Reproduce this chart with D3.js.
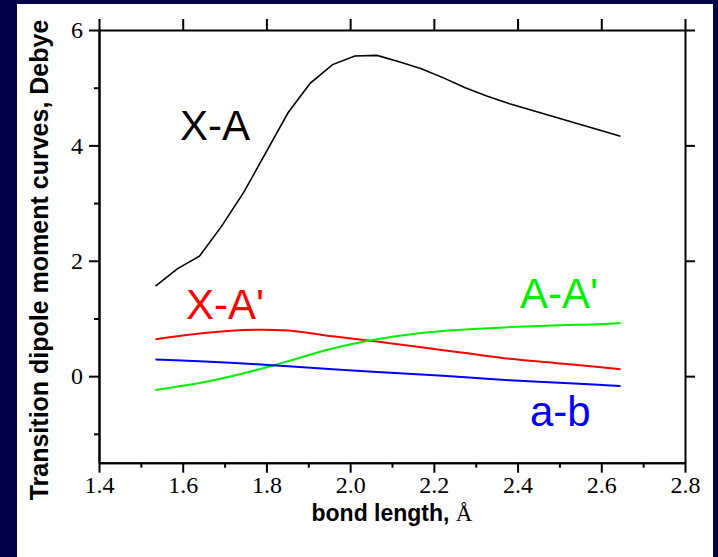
<!DOCTYPE html>
<html>
<head>
<meta charset="utf-8">
<script src="https://cdn.jsdelivr.net/npm/d3@7"></script>
<style>
  html, body { margin: 0; padding: 0; background: #03004c; }
  svg { display: block; }
</style>
</head>
<body>
<svg id="chart" width="718" height="557"></svg>
<script>
// ---------- data ----------
// bond lengths (Å) for the X-A curve (straight segments between points)
const xaBond = [1.535, 1.587, 1.640, 1.693, 1.746, 1.799, 1.852, 1.905, 1.958, 2.011, 2.064, 2.117, 2.170, 2.223, 2.275, 2.328, 2.381, 2.646];
const xaValues = [1.56, 1.86, 2.08, 2.60, 3.19, 3.88, 4.57, 5.08, 5.40, 5.55, 5.56, 5.45, 5.33, 5.17, 5.00, 4.85, 4.72, 4.16];

// bond lengths (Å) for the smooth curves
const smoothBond = [1.535, 1.640, 1.746, 1.852, 1.958, 2.064, 2.170, 2.275, 2.381, 2.487, 2.593, 2.646];
const xApValues = [0.64, 0.74, 0.80, 0.79, 0.69, 0.60, 0.50, 0.40, 0.30, 0.23, 0.16, 0.12];
const aApValues = [-0.24, -0.12, 0.05, 0.26, 0.48, 0.64, 0.75, 0.81, 0.85, 0.88, 0.90, 0.92];
const abValues  = [0.29, 0.26, 0.22, 0.17, 0.12, 0.07, 0.03, -0.02, -0.07, -0.11, -0.15, -0.17];

// axis ticks
const xMajorTicks = [1.4, 1.6, 1.8, 2.0, 2.2, 2.4, 2.6, 2.8];
const xMinorTicks = [1.5, 1.7, 1.9, 2.1, 2.3, 2.5, 2.7];
const yMajorTicks = [0, 2, 4, 6];
const yMinorTicks = [-1, 1, 3, 5];

const xTitle = "bond length, ";
const xTitleUnit = "Å";
const yTitle = "Transition dipole moment curves, Debye";

const seriesLabels = ["X-A", "X-A'", "A-A'", "a-b"];
const seriesColors = ["#000000", "#ff0000", "#00f000", "#0000ff"];

// ---------- drawing ----------
const svg = d3.select("#chart");

// white panel on navy background
svg.append("rect").attr("x", 0).attr("y", 0).attr("width", 718).attr("height", 557).attr("fill", "#03004c");
svg.append("rect").attr("x", 17).attr("y", 4).attr("width", 696).attr("height", 553).attr("fill", "#ffffff");

const L = 99, R = 685, T = 30, B = 462.7;
const x = d3.scaleLinear().domain([1.4, 2.8]).range([L, R]);
const y = d3.scaleLinear().domain([-1.5, 6]).range([B, T]);

const serif = "'Liberation Serif', 'Times New Roman', serif";
const sans = "'Liberation Sans', Arial, sans-serif";

function styleAxis(g) {
  g.select(".domain").attr("stroke", "#000").attr("stroke-width", 2);
  g.selectAll(".tick line").attr("stroke", "#000").attr("stroke-width", 2);
  g.selectAll(".tick text").attr("fill", "#000").style("font-family", serif).style("font-size", "24px");
}

// bottom axis
svg.append("g").attr("transform", `translate(0,${B})`)
  .call(d3.axisBottom(x).tickValues(xMinorTicks).tickSize(5).tickFormat("").tickSizeOuter(0))
  .call(styleAxis);
svg.append("g").attr("transform", `translate(0,${B})`)
  .call(d3.axisBottom(x).tickValues(xMajorTicks).tickSize(10).tickPadding(3).tickFormat(d3.format(".1f")).tickSizeOuter(0))
  .call(styleAxis);

// top axis (major ticks, no labels)
svg.append("g").attr("transform", `translate(0,${T})`)
  .call(d3.axisTop(x).tickValues(xMajorTicks).tickSize(11).tickFormat("").tickSizeOuter(0))
  .call(styleAxis);

// left axis
svg.append("g").attr("transform", `translate(${L},0)`)
  .call(d3.axisLeft(y).tickValues(yMinorTicks).tickSize(5).tickFormat("").tickSizeOuter(0))
  .call(styleAxis);
svg.append("g").attr("transform", `translate(${L},0)`)
  .call(d3.axisLeft(y).tickValues(yMajorTicks).tickSize(10).tickPadding(6).tickFormat(d3.format("d")).tickSizeOuter(0))
  .call(styleAxis);

// right axis (major ticks, no labels)
svg.append("g").attr("transform", `translate(${R},0)`)
  .call(d3.axisRight(y).tickValues(yMajorTicks).tickSize(10).tickFormat("").tickSizeOuter(0))
  .call(styleAxis);

// curves
const lineLinear = d3.line().x(d => x(d[0])).y(d => y(d[1])).curve(d3.curveLinear);
const lineSmooth = d3.line().x(d => x(d[0])).y(d => y(d[1])).curve(d3.curveCatmullRom.alpha(0.5));

svg.append("path").datum(d3.zip(xaBond, xaValues))
  .attr("d", lineLinear).attr("fill", "none").attr("stroke", seriesColors[0]).attr("stroke-width", 1.6);
svg.append("path").datum(d3.zip(smoothBond, xApValues))
  .attr("d", lineSmooth).attr("fill", "none").attr("stroke", seriesColors[1]).attr("stroke-width", 2);
svg.append("path").datum(d3.zip(smoothBond, aApValues))
  .attr("d", lineSmooth).attr("fill", "none").attr("stroke", seriesColors[2]).attr("stroke-width", 2);
svg.append("path").datum(d3.zip(smoothBond, abValues))
  .attr("d", lineSmooth).attr("fill", "none").attr("stroke", seriesColors[3]).attr("stroke-width", 2);

// curve labels
const labelPos = [[180, 140], [186, 319], [520, 308], [530, 426]];
seriesLabels.forEach((t, i) => {
  svg.append("text").attr("x", labelPos[i][0]).attr("y", labelPos[i][1])
    .attr("fill", seriesColors[i]).style("font-family", sans).style("font-size", "42px")
    .text(t);
});

// axis titles
const xt = svg.append("text").attr("x", (L + R) / 2).attr("y", 521).attr("text-anchor", "middle")
  .attr("fill", "#000").style("font-family", sans).style("font-size", "23px").style("font-weight", "bold");
xt.append("tspan").text(xTitle);
xt.append("tspan").style("font-family", serif).style("font-weight", "normal").text(xTitleUnit);

svg.append("text").attr("transform", `translate(48,260) rotate(-90)`).attr("text-anchor", "middle")
  .attr("fill", "#000").style("font-family", sans).style("font-size", "25px").style("font-weight", "bold")
  .text(yTitle);
</script>
</body>
</html>
